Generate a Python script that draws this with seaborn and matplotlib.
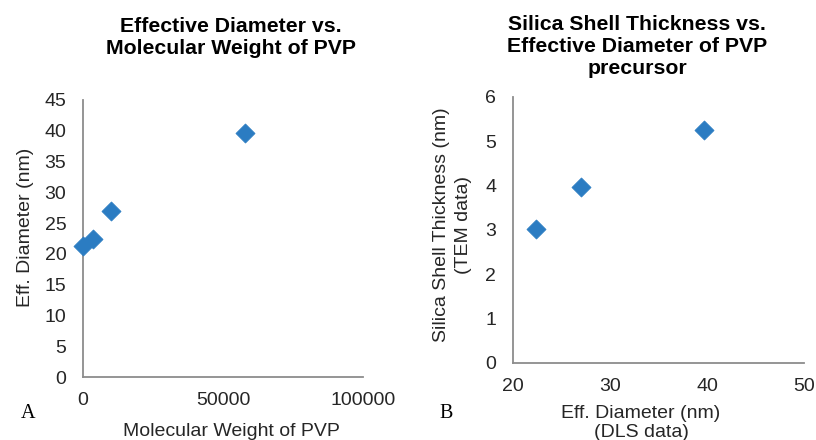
import matplotlib
matplotlib.use("Agg")
import matplotlib.pyplot as plt
import seaborn as sns
import pandas as pd

# Panel A data
mw_pvp = [0, 3500, 10000, 58000]
eff_diam_a = [21.3, 22.4, 27.0, 39.7]

# Panel B data
eff_diam_b = [22.4, 27.0, 39.7]
shell_thickness = [3.02, 3.97, 5.25]

xticks_a = [0, 50000, 100000]
yticks_a = [0, 5, 10, 15, 20, 25, 30, 35, 40, 45]
xticks_b = [20, 30, 40, 50]
yticks_b = [0, 1, 2, 3, 4, 5, 6]

sns.set_style("white")
plt.rcParams['font.family'] = ['Liberation Sans', 'DejaVu Sans']

blue = "#2B7CC2"
grey = "#8C8C8C"
txt = "#262626"

fig = plt.figure(figsize=(8.16, 4.4), dpi=100)
axA = fig.add_axes([83/816, 1-377/440, 280/816, 277/440])
axB = fig.add_axes([512.7/816, 1-362.7/440, 291.6/816, 266/440])

dfA = pd.DataFrame({"mw": mw_pvp, "d": eff_diam_a})
dfB = pd.DataFrame({"d": eff_diam_b, "t": shell_thickness})

sns.scatterplot(data=dfA, x="mw", y="d", marker="D", s=95, color=blue,
                edgecolor=blue, linewidth=0.5, ax=axA, clip_on=False, zorder=3)
sns.scatterplot(data=dfB, x="d", y="t", marker="D", s=95, color=blue,
                edgecolor=blue, linewidth=0.5, ax=axB, clip_on=False, zorder=3)

for ax, xt, yt in [(axA, xticks_a, yticks_a), (axB, xticks_b, yticks_b)]:
    ax.set_xlim(xt[0], xt[-1])
    ax.set_ylim(yt[0], yt[-1])
    ax.set_xticks(xt)
    ax.set_yticks(yt)
    for s in ["top", "right"]:
        ax.spines[s].set_visible(False)
    for s in ["left", "bottom"]:
        ax.spines[s].set_color(grey)
        ax.spines[s].set_linewidth(1.3)
    ax.tick_params(axis="both", length=0, labelsize=14, colors=txt)
    ax.tick_params(axis="y", pad=12)
    ax.tick_params(axis="x", pad=11)
    ax.set_facecolor("white")

axA.set_xlabel("Molecular Weight of PVP", fontsize=14, color=txt)
axA.set_ylabel("Eff. Diameter (nm)", fontsize=14, color=txt)
axA.xaxis.set_label_coords(0.53, -0.165)
axA.yaxis.set_label_coords(-0.175, 0.54)

axB.set_xlabel("Eff. Diameter (nm)\n(DLS data)", fontsize=14, color=txt, linespacing=1.2)
axB.set_ylabel("Silica Shell Thickness (nm)\n(TEM data)", fontsize=14, color=txt, linespacing=1.4)
axB.xaxis.set_label_coords(0.44, -0.158)
axB.yaxis.set_label_coords(-0.14, 0.518)

fig.text(231/816, 1-17/440, "Effective Diameter vs.\nMolecular Weight of PVP",
         ha="center", va="top", fontsize=15.3, fontweight="bold", color="black",
         linespacing=1.2)
fig.text(637/816, 1-15/440, "Silica Shell Thickness vs.\nEffective Diameter of PVP\nprecursor",
         ha="center", va="top", fontsize=15.3, fontweight="bold", color="black",
         linespacing=1.2)

fig.text(28/816, 1-413/440, "A", ha="center", va="center", fontsize=14.5,
         family=["Liberation Serif", "DejaVu Serif"], color="black")
fig.text(446/816, 1-413/440, "B", ha="center", va="center", fontsize=14.5,
         family=["Liberation Serif", "DejaVu Serif"], color="black")

fig.savefig("out.png", dpi=100, facecolor="white")
